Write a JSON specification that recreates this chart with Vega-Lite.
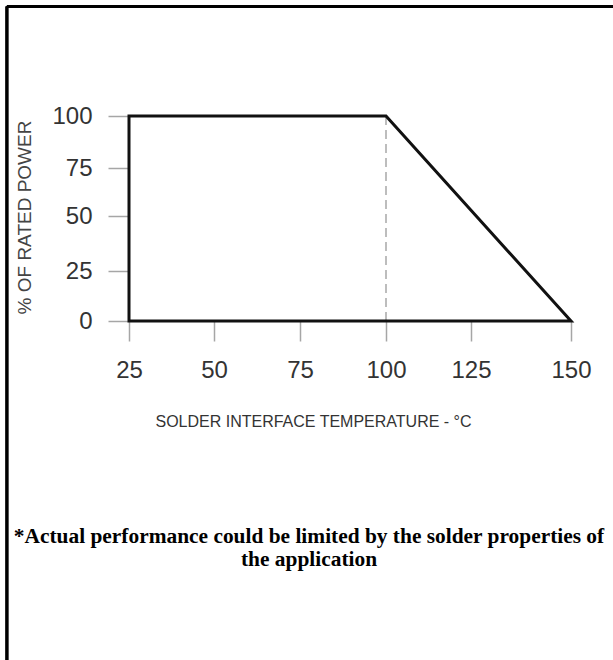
{
  "$schema": "https://vega.github.io/schema/vega-lite/v6.json",
  "width": 613,
  "height": 660,
  "padding": 0,
  "autosize": {"type": "none"},
  "background": "white",
  "config": {"view": {"stroke": null}},
  "title": {
    "text": ["*Actual performance could be limited by the solder properties of", "the application"],
    "orient": "bottom",
    "anchor": "middle",
    "frame": "group",
    "font": "Liberation Serif",
    "fontSize": 21.4,
    "fontWeight": "bold",
    "color": "black",
    "baseline": "alphabetic",
    "lineHeight": 23,
    "offset": 0,
    "dy": -120,
    "dx": 2.5
  },
  "data": {
    "values": [
      {"temp": 25, "power": 0, "step": 1},
      {"temp": 25, "power": 100, "step": 2},
      {"temp": 100, "power": 100, "step": 3},
      {"temp": 150, "power": 0, "step": 4},
      {"temp": 25, "power": 0, "step": 5}
    ]
  },
  "layer": [
    {
      "mark": {"type": "rule", "color": "#bdbdbd", "strokeWidth": 1.5, "strokeDash": [9, 5]},
      "encoding": {
        "x": {"datum": 100, "type": "quantitative"},
        "y": {"datum": 0, "type": "quantitative"},
        "y2": {"datum": 100}
      }
    },
    {
      "mark": {"type": "line", "color": "#111111", "strokeWidth": 3, "strokeJoin": "miter", "strokeCap": "square"},
      "encoding": {
        "x": {
          "field": "temp",
          "type": "quantitative",
          "scale": {"domain": [25, 50, 75, 100, 125, 150], "range": [129, 214, 300, 386, 471, 571], "nice": false, "zero": false},
          "axis": {
            "values": [25, 50, 75, 100, 125, 150],
            "orient": "bottom",
            "offset": -339,
            "domain": false,
            "grid": false,
            "tickSize": 20,
            "tickColor": "#a6a6a6",
            "tickWidth": 1.5,
            "labelFont": "Liberation Sans",
            "labelFontSize": 24,
            "labelColor": "#333333",
            "labelPadding": 17,
            "labelFlush": false,
            "labelOverlap": false,
            "format": "d",
            "title": "SOLDER INTERFACE TEMPERATURE - °C",
            "titleFont": "Liberation Sans",
            "titleFontSize": 16,
            "titleFontWeight": "normal",
            "titleColor": "#333333",
            "titleX": 313,
            "titleY": 105,
            "titleAlign": "center",
            "titleBaseline": "alphabetic"
          }
        },
        "y": {
          "field": "power",
          "type": "quantitative",
          "scale": {"domain": [0, 25, 50, 75, 100], "range": [321, 271, 216, 168, 116], "nice": false, "zero": false},
          "axis": {
            "values": [0, 25, 50, 75, 100],
            "orient": "left",
            "offset": -128,
            "domain": false,
            "grid": false,
            "tickSize": 20,
            "tickColor": "#a6a6a6",
            "tickWidth": 1.5,
            "labelFont": "Liberation Sans",
            "labelFontSize": 24,
            "labelColor": "#333333",
            "labelPadding": 16,
            "labelOverlap": false,
            "format": "d",
            "title": "% OF RATED POWER",
            "titleFont": "Liberation Sans",
            "titleFontSize": 19,
            "titleFontWeight": "normal",
            "titleColor": "#444444",
            "titleX": -104,
            "titleY": 217,
            "titleAngle": -90,
            "titleAlign": "center",
            "titleBaseline": "middle"
          }
        },
        "order": {"field": "step", "type": "quantitative"}
      }
    },
    {
      "mark": {"type": "rule", "color": "black", "strokeWidth": 2.5},
      "encoding": {
        "y": {"datum": 152.6, "type": "quantitative"},
        "x": {"datum": -10.9, "type": "quantitative"},
        "x2": {"datum": 161}
      }
    },
    {
      "mark": {"type": "rule", "color": "black", "strokeWidth": 2.5},
      "encoding": {
        "x": {"datum": -10.9, "type": "quantitative"},
        "y": {"datum": 152.6, "type": "quantitative"},
        "y2": {"datum": -170.5}
      }
    }
  ]
}
